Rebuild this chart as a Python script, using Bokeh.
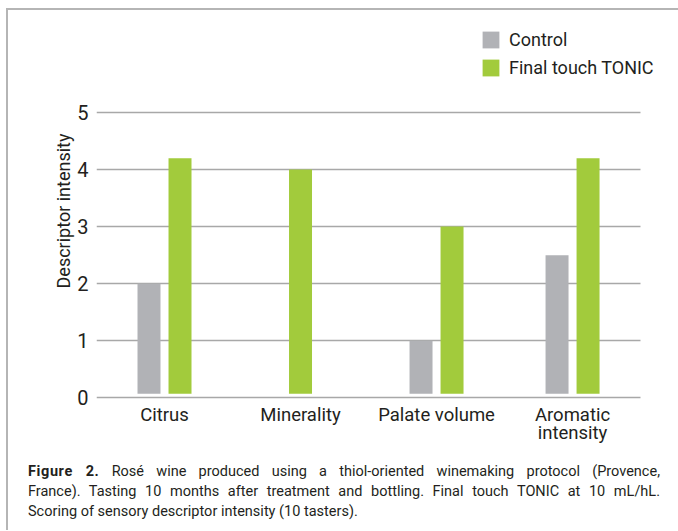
from bokeh.plotting import figure
from bokeh.models import (ColumnDataSource, Range1d, FixedTicker, Legend, LegendItem, Div)
from bokeh.layouts import column
from bokeh.embed import file_html
from bokeh.resources import INLINE

# ---- data ----
categories = ["Citrus", "Minerality", "Palate volume", "Aromatic\nintensity"]
control = [2.0, None, 1.0, 2.5]
tonic = [4.2, 4.0, 3.0, 4.2]
series_names = ["Control", "Final touch TONIC"]
y_ticks = [0, 1, 2, 3, 4, 5]
y_label = "Descriptor intensity"
caption_bold = "Figure 2."
caption_lines = [
    "Rosé wine produced using a thiol-oriented winemaking protocol (Provence,",
    "France). Tasting 10 months after treatment and bottling. Final touch TONIC at 10 mL/hL.",
    "Scoring of sensory descriptor intensity (10 tasters).",
]

# ---- styles ----
FONT = "Roboto"
TEXT = "#231f20"
GRAY = "#b1b2b6"
GREEN = "#a2cb3c"
GRID = "#a8a8a8"
OFFSET = 0.114
BAR_W = 0.169
BASE = 0.07
X_LO, X_HI = -0.5, 3.5

cx, cy, cb = [], [], []
tx, ty, tb = [], [], []
for i, (c, t) in enumerate(zip(control, tonic)):
    if c is None:
        tx.append(i); ty.append(t); tb.append(BASE)
    else:
        cx.append(i - OFFSET); cy.append(c); cb.append(BASE)
        tx.append(i + OFFSET); ty.append(t); tb.append(BASE)

src_c = ColumnDataSource(dict(x=cx, top=cy, bottom=cb))
src_t = ColumnDataSource(dict(x=tx, top=ty, bottom=tb))

p = figure(width=668, height=440, frame_width=565, frame_height=379,
           x_range=Range1d(X_LO, 3.654), y_range=Range1d(-0.05, 6.598),
           output_backend="svg", toolbar_location=None,
           min_border_left=88, min_border_right=15, min_border_top=11, min_border_bottom=50)
p.outline_line_color = None
p.background_fill_color = "white"
p.border_fill_color = "white"

# horizontal grid lines, limited to the category area
p.xgrid.visible = False
if "cross_bounds" in p.ygrid.properties():
    p.ygrid.ticker = FixedTicker(ticks=y_ticks)
    p.ygrid.grid_line_color = GRID
    p.ygrid.grid_line_width = 1.5
    p.ygrid.cross_bounds = (X_LO, X_HI)
else:
    p.ygrid.visible = False
    p.segment(x0=[X_LO] * len(y_ticks), x1=[X_HI] * len(y_ticks), y0=y_ticks, y1=y_ticks,
              line_color=GRID, line_width=1.5, level="underlay")

r_c = p.vbar(x="x", top="top", bottom="bottom", width=BAR_W, source=src_c,
             fill_color=GRAY, line_color=None)
r_t = p.vbar(x="x", top="top", bottom="bottom", width=BAR_W, source=src_t,
             fill_color=GREEN, line_color=None)

p.yaxis.ticker = FixedTicker(ticks=y_ticks)
p.yaxis.axis_label = y_label
p.yaxis.axis_label_text_font = FONT
p.yaxis.axis_label_text_font_size = "18px"
p.yaxis.axis_label_text_font_style = "normal"
p.yaxis.axis_label_text_color = TEXT
p.yaxis.axis_label_standoff = 0
p.yaxis.major_label_text_font = FONT
p.yaxis.major_label_text_font_size = "20px"
p.yaxis.major_label_text_color = TEXT
p.yaxis.major_label_standoff = 8

p.xaxis.ticker = FixedTicker(ticks=list(range(len(categories))))
p.xaxis.major_label_overrides = {i: c for i, c in enumerate(categories)}
p.xaxis.major_label_text_font = FONT
p.xaxis.major_label_text_font_size = "18.5px"
p.xaxis.major_label_text_color = TEXT
p.xaxis.major_label_text_line_height = 0.85
p.xaxis.major_label_standoff = 3

for ax in (p.xaxis, p.yaxis):
    ax.axis_line_color = None
    ax.major_tick_line_color = None
    ax.minor_tick_line_color = None
    ax.major_tick_out = 0
    ax.major_tick_in = 0
    ax.minor_tick_out = 0
    ax.minor_tick_in = 0

legend = Legend(items=[LegendItem(label=series_names[0], renderers=[r_c]),
                       LegendItem(label=series_names[1], renderers=[r_t])],
                location=(384, 322), orientation="vertical",
                glyph_width=21, glyph_height=21, label_height=21, spacing=7,
                padding=0, margin=0, label_standoff=8,
                label_text_font=FONT, label_text_font_size="18px",
                label_text_color=TEXT, border_line_color=None,
                background_fill_alpha=0)
p.add_layout(legend, "center")

just = "text-align:justify;text-align-last:justify;"
html = (
    f'<div style="font-family:{FONT};font-size:14.5px;line-height:20px;color:{TEXT};'
    f'padding:7px 3px 0 15px;width:650px;">'
    f'<div style="{just}"><b style="letter-spacing:0.6px;">{caption_bold}</b> {caption_lines[0]}</div>'
    f'<div style="{just}">{caption_lines[1]}</div>'
    f'<div style="text-align:left;">{caption_lines[2]}</div>'
    f'</div>'
)
cap = Div(text=html, width=668, height=70)

layout = column(p, cap, spacing=0,
                styles={"border-left": "2px solid #b5b5b5",
                        "border-top": "2px solid #b5b5b5",
                        "margin-left": "6px", "margin-top": "8px"})

open("out.html", "w").write(file_html(layout, INLINE))
